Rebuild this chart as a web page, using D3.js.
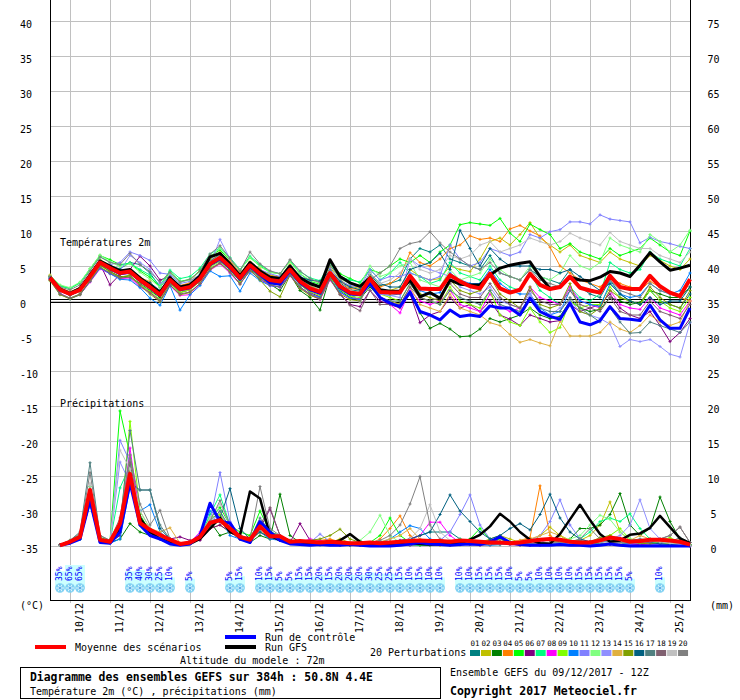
<!DOCTYPE html>
<html><head><meta charset="utf-8">
<script src="https://cdn.jsdelivr.net/npm/d3@7"></script>
<style>
body{margin:0;background:#fff}
svg{display:block}
text{font-family:"DejaVu Sans Mono",monospace;fill:#000}
</style>
</head><body>
<svg id="c" width="740" height="700"></svg>
<script>
// ---------------- DATA ----------------
// forecast hours (6-hourly, run 09/12/2017 12Z)
const hours = d3.range(0, 385, 6);
const dayLabels = ["10/12","11/12","12/12","13/12","14/12","15/12","16/12","17/12","18/12","19/12","20/12","21/12","22/12","23/12","24/12","25/12"];
const dayHours = [12,36,60,84,108,132,156,180,204,228,252,276,300,324,348,372];
const tempTicks = [40,35,30,25,20,15,10,5,0,-5,-10,-15,-20,-25,-30,-35];
const rightTicks = [75,70,65,60,55,50,45,40,35,30,25,20,15,10,5,0];

const pertColors = ["#008080","#c0c000","#008000","#ff8000","#00ff00","#800080","#00ff80","#ff00ff","#80ff00","#0080ff",
                    "#8080ff","#80ff80","#9090ff","#e0b040","#80a000","#006080","#508080","#806070","#c0c0c0","#808080"];
const pertNames = ["01","02","03","04","05","06","07","08","09","10","11","12","13","14","15","16","17","18","19","20"];

// Temperature 2m (°C), 65 steps
const tempMean = [3.3,1.6,1.0,1.6,3.5,5.5,4.7,4.0,4.2,3.0,2.0,0.9,3.0,1.7,2.0,3.2,5.3,6.2,4.9,3.3,5.1,3.9,3.0,2.8,4.5,2.8,1.8,1.3,4.0,2.1,1.2,1.0,
  3.2,1.3,1.2,1.2,3.6,1.8,1.7,1.7,3.7,2.8,2.1,1.8,3.9,1.8,1.2,1.6,3.9,2.3,1.7,2.0,3.5,1.9,1.5,1.2,3.6,2.0,1.7,1.7,3.6,2.1,1.2,0.7,3.1];
const tempGFS = [3.4,1.7,1.1,1.8,3.7,5.7,5.0,4.3,4.5,3.3,2.3,1.2,3.3,2.0,2.3,3.6,6.3,6.8,5.3,3.6,5.5,4.3,3.4,3.2,5.0,3.3,2.5,2.0,5.9,3.5,2.6,2.1,
  3.3,1.6,1.4,1.4,3.0,0.6,1.2,0.4,3.0,2.4,2.3,2.3,3.7,4.7,5.1,5.4,5.6,3.5,1.8,2.0,3.4,3.0,2.9,3.4,4.2,4.0,3.5,5.1,6.9,5.6,4.4,4.7,5.1];
const tempCtrl = [3.3,1.6,1.0,1.6,3.5,5.5,4.6,3.9,4.1,2.9,1.9,0.8,2.9,1.6,1.9,3.1,5.2,6.0,4.7,3.1,4.9,3.7,2.6,2.4,4.3,2.6,1.6,1.1,3.9,1.9,1.0,0.9,
  2.5,0.5,-0.3,-0.8,1.3,-1.5,-2.0,-2.7,-1.3,-2.2,-2.0,-2.2,-0.7,-1.0,-1.0,-2.0,0.4,-1.5,-2.2,-2.6,-0.3,-3.0,-3.4,-2.8,-0.8,-2.5,-2.6,-2.8,-0.6,-2.7,-3.9,-3.9,-1.0];
const tempPert = [
 [3.5,1.8,1.2,1.5,3.8,5.8,5.0,4.6,5.5,5.2,4.0,2.0,3.6,2.2,2.4,3.6,5.8,6.5,5.5,4.0,5.0,4.4,3.4,3.0,4.8,3.0,2.2,1.5,4.2,2.6,1.6,1.4,
  3.8,2.2,2.5,3.0,6.0,7.5,7.0,8.0,6.0,5.5,5.0,4.5,6.5,4.0,3.5,3.0,4.5,3.5,3.0,2.5,4.5,2.0,1.0,0.5,3.0,1.0,0.0,-0.5,1.5,0.0,-0.5,-1.0,1.0],
 [3.5,1.8,1.3,1.9,3.9,5.9,5.1,4.3,4.4,3.4,2.5,1.4,3.3,2.1,2.5,3.7,5.9,7.0,5.6,3.9,5.6,4.5,3.7,3.4,5.2,3.4,2.4,2.0,4.8,3.0,2.1,1.8,
  2.5,1.0,1.5,2.0,4.5,3.5,3.0,3.2,5.0,4.5,4.2,6.0,8.5,9.0,8.0,9.5,11.2,9.0,8.0,7.0,8.0,6.5,6.0,5.5,7.0,6.0,5.5,5.0,6.5,5.8,5.0,4.5,6.0],
 [3.2,1.5,0.8,1.4,3.2,5.2,4.2,3.5,3.5,2.5,1.5,0.5,2.6,1.2,1.6,3.0,5.0,5.8,4.5,2.8,4.5,3.4,2.4,1.5,3.8,1.5,0.5,-1.3,3.5,1.5,0.5,0.3,
  2.0,0.5,0.0,-0.5,1.0,-1.7,-3.9,-3.2,-4.0,-5.1,-5.0,-4.0,-2.5,-3.0,-2.5,-2.0,-1.0,-2.0,-2.5,-2.2,0.0,-1.0,-1.5,-1.2,0.5,0.0,-0.5,-0.2,1.5,1.0,0.5,0.5,2.0],
 [3.6,1.9,1.3,1.9,3.7,5.4,4.8,3.9,4.0,3.2,2.4,1.4,3.2,2.2,2.6,4.5,5.6,6.8,5.6,3.9,4.8,4.2,3.6,3.4,4.8,3.3,2.5,1.9,4.4,2.8,1.8,1.6,
  3.5,2.0,2.5,3.5,6.9,5.5,5.0,6.0,7.5,8.0,9.3,8.8,9.0,8.5,10.3,10.8,10.0,9.3,7.7,5.0,4.0,3.0,2.5,2.0,3.5,2.5,2.0,1.5,2.8,2.0,1.2,0.5,0.0],
 [3.6,2.2,1.8,2.6,4.6,6.5,5.9,5.2,5.4,4.3,3.4,2.0,4.2,2.8,3.1,4.3,6.4,7.3,5.8,4.4,6.2,5.0,4.1,3.9,5.7,3.9,2.8,2.4,5.3,3.9,3.2,2.6,
  4.5,4.0,5.0,6.0,5.5,6.5,5.5,7.0,8.0,10.9,11.2,11.0,10.8,11.8,9.7,8.5,11.0,10.2,9.5,7.5,8.2,7.0,6.5,6.0,7.5,6.5,7.0,7.5,9.0,8.0,7.0,6.5,10.0],
 [3.3,1.5,1.0,1.7,3.6,5.3,2.3,3.8,4.5,6.4,5.0,3.0,3.5,2.0,2.2,3.3,5.5,6.0,4.6,3.0,4.8,3.6,2.8,2.4,4.0,2.4,1.2,0.6,3.2,1.0,-0.5,-0.8,
  1.5,0.0,-0.5,-1.0,1.0,-3.1,-2.0,-1.5,0.5,-1.0,-0.5,-1.5,0.0,-2.0,-2.6,-3.5,-2.0,-2.5,-3.0,-2.8,-0.5,-1.5,-1.0,-0.5,1.0,-1.0,-2.0,-2.5,-1.5,-3.5,-5.8,-4.5,-2.5],
 [3.5,2.1,1.8,2.6,4.4,6.3,5.6,5.1,5.4,4.5,3.7,2.2,4.4,3.2,3.5,4.7,6.7,7.6,6.2,4.5,6.4,5.2,4.2,3.9,5.7,4.2,3.3,2.9,5.3,3.5,3.0,2.7,
  4.5,3.0,4.0,5.5,4.0,3.5,2.5,3.0,5.5,4.0,3.5,3.0,5.0,3.0,2.0,1.5,4.0,1.5,0.5,-0.5,2.0,0.5,0.0,1.0,5.5,4.5,4.0,4.5,7.0,6.0,5.5,5.0,7.5],
 [3.1,1.1,0.4,0.9,2.7,4.6,3.9,3.2,3.3,2.0,1.2,0.0,2.2,0.8,0.9,2.4,4.4,5.3,4.0,2.4,4.4,3.1,2.2,2.0,3.6,1.9,0.9,0.2,3.0,1.2,0.4,0.3,
  2.5,0.5,-0.5,-1.7,1.5,0.0,-0.5,0.0,1.5,-0.5,-1.0,-1.5,1.0,-0.8,-1.5,-1.0,2.0,0.5,0.0,-0.5,2.0,0.0,-0.5,-1.0,1.5,-0.5,-1.0,-1.2,0.5,-1.0,-1.5,-2.0,0.0],
 [3.0,1.0,0.4,1.0,2.9,4.9,4.0,3.3,3.5,2.4,1.4,0.2,2.5,1.2,1.6,2.8,4.8,5.7,4.4,2.8,4.6,3.4,2.4,2.3,4.0,2.3,1.3,0.8,3.5,1.6,0.7,0.5,
  3.0,1.0,0.5,0.0,2.5,0.5,0.0,-0.5,2.0,0.0,-0.5,-1.0,1.5,-2.0,-3.0,-3.5,-1.0,-3.0,-4.5,-3.8,0.0,-1.0,-0.5,-0.5,2.0,0.5,0.0,-0.5,1.5,0.0,-1.0,-1.5,0.5],
 [3.2,1.0,0.3,0.9,2.8,4.7,3.9,3.1,3.0,1.9,0.4,-0.6,2.2,-1.3,0.9,2.2,4.3,3.5,3.6,1.4,4.0,2.9,2.2,2.0,3.8,2.0,1.0,0.5,3.2,1.3,0.4,0.2,
  3.0,1.0,0.8,1.0,3.5,1.5,1.0,1.2,4.0,3.0,2.5,2.5,4.5,2.5,1.5,1.0,1.0,-1.0,-2.0,-1.5,1.5,0.0,-0.5,-0.8,2.5,1.0,0.5,0.8,2.5,1.5,1.0,1.5,4.0],
 [3.3,1.7,1.2,1.8,3.8,5.6,5.2,5.5,7.0,6.5,5.8,4.0,3.8,2.5,2.8,3.8,5.6,6.4,5.2,4.0,5.4,4.5,3.9,3.5,5.0,3.6,2.7,2.1,4.6,2.9,2.2,2.0,
  4.5,3.0,3.5,3.5,4.0,3.5,3.0,3.5,8.0,6.0,5.0,5.5,7.5,7.0,6.5,7.0,9.5,9.0,9.9,10.2,11.3,11.3,11.0,12.3,11.7,11.5,11.3,8.3,9.1,8.5,8.2,7.8,7.5],
 [3.7,2.3,1.9,2.7,4.6,6.6,5.6,4.9,5.3,4.1,3.1,2.0,4.0,2.7,3.0,4.2,6.4,7.5,6.0,4.4,6.2,4.9,4.1,3.9,5.6,3.9,3.0,2.5,5.1,3.2,2.5,2.3,
  5.0,3.5,4.0,5.0,5.5,3.0,2.5,2.0,4.5,3.0,3.5,4.0,6.0,4.5,3.5,3.0,5.0,3.5,3.0,4.0,6.5,5.0,4.5,5.5,9.0,8.0,7.5,7.0,9.5,8.5,7.0,8.0,10.1],
 [3.2,1.5,1.0,1.6,3.5,5.6,4.9,4.3,6.5,5.5,4.5,2.5,3.1,1.6,1.9,3.1,5.2,8.8,6.0,3.5,5.2,4.0,3.1,2.7,4.5,2.7,1.7,1.2,4.0,2.0,1.0,0.9,
  3.0,1.0,0.8,0.5,6.0,5.0,4.5,4.0,3.5,2.0,1.5,1.0,2.0,0.0,-0.5,-1.0,1.0,-1.5,-2.0,-1.0,0.0,-1.5,-2.0,-2.5,-3.3,-6.5,-5.5,-5.8,-5.5,-6.5,-7.6,-8.0,-3.1],
 [3.7,1.9,1.3,1.9,3.6,5.3,4.5,4.2,3.8,3.3,2.8,1.0,3.0,1.5,1.6,3.0,5.3,5.8,5.8,4.0,5.5,4.6,3.2,3.0,4.5,2.8,2.2,1.6,4.2,2.3,1.4,1.2,
  2.5,0.5,0.0,-0.5,2.0,-0.5,-1.0,-1.5,1.0,-1.0,-1.5,-2.0,-3.1,-3.5,-4.8,-5.9,-5.5,-6.0,-6.4,-2.9,-5.0,-5.0,-5.0,-4.5,-3.0,-4.0,-4.5,-3.5,-2.0,-3.0,-3.5,-3.0,0.0],
 [2.9,0.9,0.3,0.9,2.9,5.1,4.2,3.4,3.7,2.2,1.0,-0.1,2.3,0.9,1.2,2.5,4.5,5.4,4.2,2.4,4.4,3.0,1.4,0.6,3.7,1.8,0.8,0.3,3.2,1.0,0.2,0.0,
  3.5,1.5,1.0,1.5,3.5,1.0,0.5,0.0,3.0,1.5,1.0,1.5,3.5,1.0,0.0,-1.0,2.0,-0.5,-1.0,-0.5,2.5,-1.5,-2.0,-1.0,1.5,0.5,0.0,-0.5,2.0,0.5,-0.5,-1.0,1.5],
 [3.4,1.7,1.1,1.7,3.6,5.5,4.8,4.4,4.4,3.2,2.6,1.5,3.3,1.9,2.1,3.3,5.4,6.3,5.0,3.5,5.2,4.0,3.1,2.9,4.6,3.4,3.0,2.8,4.3,2.8,2.0,1.6,
  4.0,2.5,2.0,2.0,4.5,5.0,5.5,6.8,4.5,10.1,7.5,5.0,7.5,6.0,5.0,5.0,5.0,4.5,4.5,4.0,4.5,3.5,2.5,1.5,2.5,1.0,0.0,-0.5,0.5,-0.5,0.0,0.0,2.0],
 [3.3,1.6,1.0,1.7,3.7,5.8,5.0,4.1,4.4,3.1,2.1,1.0,3.0,1.8,2.0,3.4,5.6,6.8,5.2,3.4,5.2,4.0,3.0,2.8,4.7,3.0,2.0,1.5,4.1,2.2,1.3,1.1,
  2.5,0.5,0.0,0.0,2.5,0.5,0.0,-0.5,1.5,0.5,0.0,-0.5,1.5,-0.5,-1.0,-1.5,0.5,-1.0,-1.5,-1.5,0.5,-1.0,-2.0,-3.0,-1.0,-3.0,-4.6,-4.5,-3.0,-3.5,-4.0,-4.5,-3.0],
 [3.0,1.0,0.4,1.0,2.8,4.8,4.0,3.3,3.4,2.3,1.2,0.1,2.3,1.0,1.3,2.5,4.6,5.5,4.1,2.5,4.3,3.2,2.3,2.0,3.7,2.0,1.0,0.3,3.1,0.9,-0.6,-1.4,
  1.5,-0.5,-0.5,-0.5,2.0,0.5,0.0,0.5,2.5,1.0,0.5,0.5,2.5,0.5,-0.5,-1.0,1.5,0.0,-0.5,-0.5,1.5,-0.5,-1.0,-1.5,0.5,-1.5,-2.0,-2.0,0.0,-1.5,-2.0,-2.5,-0.5],
 [3.4,1.7,1.2,1.8,3.7,5.7,5.0,4.2,4.5,3.3,2.3,1.1,3.2,1.9,2.2,3.5,5.5,6.5,5.1,3.5,5.3,4.1,3.2,3.0,4.8,3.0,2.0,1.5,4.2,2.4,1.5,1.2,
  4.0,2.5,3.0,4.0,6.0,4.5,4.0,4.5,6.5,6.0,6.5,8.0,8.5,7.0,7.5,8.0,9.0,8.5,8.0,8.5,9.7,9.0,8.5,8.0,9.8,8.5,8.0,7.5,7.5,6.5,6.0,5.5,7.0],
 [3.5,2.0,1.6,2.3,4.3,6.3,5.5,5.2,6.8,5.2,4.2,2.7,4.1,2.7,3.1,4.3,6.7,7.9,6.1,4.3,7.0,5.3,4.3,3.9,5.9,4.3,3.2,2.6,5.1,3.3,1.2,-0.2,
  3.0,4.0,5.0,7.5,8.2,8.5,9.9,8.3,7.0,6.0,5.0,4.5,5.5,4.0,3.5,3.0,4.5,3.0,2.5,2.0,3.5,2.0,1.5,1.0,3.0,1.5,1.0,0.5,2.5,1.5,1.0,0.5,3.0]
];

// Precipitation (mm / 6h), steps 1..64
const precMean = [0.1,0.6,1.3,8.0,0.9,0.6,3.2,10.3, 3.3,2.3,1.6,0.9,0.3,0.5,1.3,3.3, 3.7,2.5,1.3,0.9,2.8,1.4,1.4,0.6,
  0.7,0.6,0.5,0.6,0.5,0.4,0.4,0.5, 0.4,0.5,0.6,0.7,0.8,0.7,0.7,0.6, 0.8,0.7,0.6,0.5,0.5,0.4,0.5,0.7, 0.9,1.0,0.9,0.6,0.5,0.5,0.8,1.2, 1.0,0.6,0.7,0.9,0.9,0.8,0.6,0.2];
const precGFS = [0.1,0.5,1.2,7.5,0.8,0.5,2.5,9.5, 4.0,2.0,1.0,0.5,0.2,0.3,1.0,2.5, 4.0,2.0,1.5,7.8,6.8,1.5,0.8,0.5,
  0.3,0.5,0.3,0.4,0.8,1.7,0.6,0.3, 0.2,0.3,0.2,0.4,0.3,0.2,0.3,0.2, 0.4,0.9,1.6,2.8,4.6,3.5,2.0,0.9, 0.4,0.3,1.7,3.8,5.9,3.7,1.7,0.6, 0.8,1.6,1.8,2.6,4.3,2.7,1.1,0.4];
const precCtrl = [0.1,0.4,1.0,6.5,0.5,0.4,2.0,9.0, 3.0,1.5,1.0,0.3,0.1,0.3,1.5,6.1, 3.5,3.3,1.0,0.5,3.5,2.0,0.8,0.3,
  0.2,0.1,0.2,0.1,0.1,0.2,0.1,0, 0,0,0.1,0.3,0.5,0.3,0.2,0.1, 0.2,0.3,0.2,0.6,1.3,0.5,0.2,0.1, 0.1,0.1,0.2,0.1,0.1,0,0.1,0.3, 0.1,0,0,0,0,0,0,0];
const precPert = [
 [0.1,0.5,1.0,7.0,0.8,0.5,2.0,9.5, 3.5,2.5,1.5,0.8,0.2,0.5,1.0,3.0, 3.5,2.5,1.0,1.0,2.5,1.5,1.0,0.5, 0.3,0.2,0.2,0.3,0.2,0.1,0.1,0.2, 0.3,0.2,0.5,1.0,1.5,2.0,2.0,2.0, 1.0,0.5,0.3,0.2,0.2,0.3,0.2,0.1, 0.1,0.2,0.3,0.5,0.3,0.2,0.3,0.5, 0.3,0.2,0.2,0.3,0.2,0.1,0.1,0.0],
 [0.1,0.6,1.5,6.5,1.0,0.6,3.0,12.5, 3.0,2.0,1.2,0.6,0.2,0.4,1.0,2.5, 3.0,2.0,1.5,0.8,2.0,1.0,1.5,0.5, 0.5,0.3,0.4,0.5,1.0,0.5,0.3,0.2, 0.2,0.3,0.5,0.6,0.5,0.3,0.2,0.2, 0.3,0.2,0.5,1.0,1.5,1.0,0.5,0.3, 1.5,2.7,1.5,0.5,0.8,1.5,3.0,6.3, 2.0,0.8,0.5,0.3,0.8,0.5,0.3,0.1],
 [0.1,0.5,1.0,6.0,0.8,0.5,1.0,3.2, 2.0,1.5,1.0,0.5,0.2,0.5,1.5,3.5, 1.5,2.0,1.5,0.5,1.5,1.0,7.4,1.5, 0.5,0.3,0.2,0.2,0.1,0.1,0.2,0.2, 0.1,0.2,0.3,0.2,0.1,0.1,0.2,0.1, 0.2,0.3,0.2,0.5,1.0,0.5,0.3,0.2, 0.2,0.3,0.5,1.0,2.5,2.5,3.0,4.5, 7.5,3.0,1.5,2.5,7.0,3.5,1.0,0.2],
 [0.1,0.7,1.5,7.5,1.0,0.7,2.5,10.5, 4.0,2.5,1.5,1.0,0.3,0.4,1.0,2.5, 4.5,2.0,1.0,1.5,3.0,1.5,1.0,0.8, 0.5,0.3,0.8,1.0,0.6,0.3,0.2,0.3, 1.0,2.5,4.3,1.5,0.5,0.2,0.1,0.1, 0.2,0.3,0.5,0.4,0.3,0.5,0.8,1.2, 8.6,1.5,0.5,0.3,0.2,0.3,0.5,0.8, 0.5,0.3,0.2,0.4,0.5,0.3,0.2,0.1],
 [0.2,0.8,1.6,8.5,1.2,0.8,19.3,13.0, 4.5,2.0,1.5,0.5,0.2,0.5,1.6,4.0, 5.5,3.0,2.0,1.5,5.0,2.0,1.5,0.8, 0.4,0.3,0.3,0.2,0.3,0.2,0.2,0.5, 1.5,4.0,1.5,0.5,0.3,0.2,0.2,0.3, 0.5,1.0,2.5,1.0,0.6,0.4,0.3,0.2, 0.3,0.5,0.8,0.5,0.3,0.2,0.5,1.0, 0.8,0.5,0.4,0.3,0.6,0.8,0.5,0.2],
 [0.1,0.5,1.2,7.0,0.8,0.5,1.5,11.0, 3.0,2.5,1.2,1.0,1.3,0.8,0.8,2.5, 3.0,2.0,1.0,0.6,2.5,5.3,1.5,0.5, 3.2,0.8,0.5,0.3,0.2,0.2,0.1,0.1, 0.2,0.3,0.2,0.1,0.2,0.5,0.8,0.5, 0.3,0.2,0.1,0.2,0.3,0.2,0.1,0.1, 0.2,0.3,0.5,0.3,0.2,0.1,0.2,0.3, 0.5,0.3,0.2,0.1,0.3,0.5,0.3,0.1],
 [0.1,0.6,1.4,8.0,1.0,0.6,8.3,11.5, 3.5,2.0,1.5,1.0,0.3,0.5,1.2,4.5, 7.3,3.0,1.5,1.0,3.0,1.5,1.0,0.5, 0.3,0.2,0.2,0.3,0.2,0.3,0.2,0.2, 0.4,0.5,0.3,0.2,0.1,0.2,0.3,0.5, 1.0,0.6,0.3,0.2,0.2,0.3,0.5,0.8, 0.5,0.3,0.4,0.5,1.0,2.0,3.5,4.0, 3.5,4.6,2.5,1.0,0.5,0.3,0.2,0.1],
 [0.1,0.6,1.3,7.5,0.9,0.6,2.0,14.0, 4.0,2.2,1.3,0.7,0.2,0.5,2.0,3.5, 4.0,2.5,1.2,0.8,2.5,1.5,1.0,0.6, 0.5,1.0,0.8,0.4,0.3,0.2,0.2,0.2, 0.3,0.5,0.8,1.0,1.5,3.4,3.4,1.5, 0.5,0.3,0.2,0.2,0.3,0.2,0.2,0.1, 0.1,0.2,0.3,0.2,0.2,0.3,0.2,0.3, 0.2,0.2,0.1,0.2,0.3,0.2,0.1,0.0],
 [0.1,0.7,1.5,8.0,1.0,0.7,2.0,17.8, 5.0,2.5,1.5,0.8,0.3,0.6,1.5,4.0, 4.5,2.5,1.2,0.8,2.0,1.2,1.2,0.6, 0.4,0.3,0.3,0.4,0.3,0.2,0.3,0.4, 0.5,0.6,0.5,0.5,0.3,0.2,0.3,0.2, 0.3,0.4,0.6,0.8,1.0,0.6,0.4,0.2, 0.2,0.5,1.5,0.8,0.4,0.3,1.0,1.5, 2.5,1.0,0.6,0.5,0.8,1.2,0.5,0.2],
 [0.1,0.4,1.0,6.0,0.6,0.4,1.0,8.5, 5.0,5.9,2.0,0.8,0.2,0.5,1.5,5.0, 4.0,1.5,1.0,0.8,2.0,1.0,0.8,0.4, 0.3,0.2,0.2,0.2,0.3,0.2,0.2,0.3, 0.5,1.0,2.0,2.9,2.5,1.0,0.5,0.3, 0.2,0.3,0.2,0.1,0.2,0.3,0.2,0.2, 0.3,0.5,0.4,0.3,0.2,0.3,0.5,0.8, 0.5,0.3,0.5,0.8,0.5,0.3,0.2,0.1],
 [0.1,0.6,1.4,7.5,1.0,0.6,15.1,12.0, 4.0,2.0,1.5,0.7,0.2,0.5,1.5,3.5, 10.5,3.5,1.5,1.0,2.0,1.2,1.0,0.5, 0.4,0.5,1.7,0.6,0.3,0.2,0.3,0.3, 0.3,0.2,0.3,0.4,0.5,0.5,0.8,2.0, 4.5,7.3,3.0,1.0,0.6,0.4,0.5,0.8, 1.5,3.5,6.6,3.0,1.0,0.6,0.4,0.3, 0.2,0.3,0.4,0.3,0.2,0.2,0.1,0.0],
 [0.1,0.5,1.2,7.0,0.8,0.5,2.0,10.0, 3.0,2.0,1.2,0.6,0.2,0.5,1.2,3.5, 4.0,2.5,1.0,0.8,2.5,1.5,1.2,0.6, 0.4,0.3,0.4,0.6,0.5,0.4,0.8,2.0, 4.4,1.5,0.5,0.3,0.2,0.3,0.2,0.2, 0.3,0.2,0.3,0.5,0.6,0.4,0.3,0.3, 0.4,0.5,0.8,1.0,1.5,3.0,4.4,3.8, 2.0,1.0,0.8,0.5,0.5,0.3,0.2,0.1],
 [0.1,0.5,1.1,6.5,0.7,0.5,12.0,9.0, 3.5,1.8,1.2,0.6,0.2,0.4,1.2,3.0, 5.0,2.0,1.2,0.8,2.0,1.2,0.8,0.4, 0.3,0.2,0.2,0.3,0.2,0.2,0.2,0.3, 0.2,0.3,0.2,0.3,0.4,0.3,0.3,0.2, 0.2,0.3,0.2,0.3,0.3,0.2,0.3,0.4, 0.5,1.0,0.6,0.4,0.3,0.5,0.8,1.0, 1.5,3.0,6.6,2.5,1.0,0.5,0.3,0.1],
 [0.1,0.6,1.3,7.0,0.9,0.6,2.5,11.0, 3.0,2.5,2.0,2.6,0.4,0.5,1.2,3.0, 3.5,2.0,1.0,0.8,2.0,1.5,1.2,0.6, 0.4,0.3,0.4,0.5,0.4,0.3,0.3,0.4, 0.6,1.0,1.5,2.5,1.0,0.5,0.3,0.2, 0.3,0.5,0.5,0.4,0.3,0.5,0.8,1.0, 1.5,2.0,1.5,0.8,0.5,0.6,1.0,0.8, 0.5,0.8,1.5,1.0,0.6,0.4,0.2,0.1],
 [0.1,0.6,1.2,7.5,0.9,0.5,2.0,10.5, 3.5,2.0,1.3,0.8,0.2,0.5,1.5,3.2, 3.8,2.5,1.5,1.0,2.5,1.5,1.2,0.5, 0.6,0.8,1.0,1.5,2.4,1.0,0.5,0.3, 0.3,0.5,0.4,0.3,0.2,0.3,0.4,0.3, 0.2,0.3,0.5,0.8,0.5,0.3,0.3,0.2, 0.3,0.5,0.6,0.5,0.4,0.6,1.2,1.5, 1.0,0.6,0.4,0.3,0.5,0.4,0.2,0.1],
 [0.1,0.5,1.2,7.0,0.8,0.5,2.0,9.0, 8.0,8.0,2.5,1.0,0.3,0.5,1.5,3.0, 4.0,8.2,2.5,1.0,2.0,1.2,0.8,0.5, 0.3,0.3,0.2,0.3,0.4,0.3,0.3,0.5, 0.6,0.5,0.8,1.0,1.5,2.0,4.5,7.3, 5.0,3.5,2.0,1.0,1.5,2.5,3.2,2.3, 4.5,7.4,4.0,2.0,1.0,0.6,0.4,0.3, 0.3,0.5,0.8,0.5,0.3,0.2,0.2,0.1],
 [0.2,0.8,2.0,11.9,1.5,0.8,3.0,16.5, 8.0,8.0,3.0,1.0,0.3,0.6,1.5,3.5, 5.0,2.5,1.5,1.0,4.0,2.0,1.5,0.8, 0.5,0.3,0.3,0.4,0.3,0.2,0.3,0.4, 0.3,0.2,0.3,0.4,0.3,0.2,0.2,0.3, 0.4,0.3,0.2,0.3,0.4,0.3,0.2,0.2, 0.3,0.4,0.5,0.6,0.8,0.5,0.4,0.3, 0.5,0.8,1.0,0.8,0.5,0.6,1.2,0.5],
 [0.1,0.6,1.3,8.0,1.0,0.6,2.0,12.0, 4.0,2.0,1.2,0.6,0.2,0.4,1.2,3.5, 4.0,2.0,1.0,0.8,3.0,5.5,1.5,0.5, 0.4,0.3,0.2,0.3,0.2,0.2,0.2,0.3, 0.3,0.2,0.3,0.5,0.6,0.4,0.3,0.2, 0.3,0.4,0.3,0.2,0.3,0.4,0.3,0.3, 0.4,0.5,0.6,0.5,0.4,0.5,0.6,0.8, 1.0,0.8,0.6,0.5,1.0,1.5,2.7,0.5],
 [0.1,0.7,1.5,9.0,1.0,0.6,13.7,11.0, 5.0,2.5,1.5,0.8,0.2,0.5,1.5,4.0, 6.0,3.0,1.5,1.0,3.0,1.5,1.2,0.6, 0.4,0.3,0.3,0.4,0.3,0.3,0.3,0.4, 0.5,0.4,0.6,1.0,2.5,5.9,2.0,0.8, 0.4,0.3,0.3,0.4,0.5,0.4,0.3,0.2, 0.3,0.4,0.5,0.4,0.3,0.4,0.6,0.5, 0.4,0.5,0.6,0.8,0.6,0.4,0.2,0.1],
 [0.2,0.8,1.8,10.5,1.5,0.8,4.0,13.0, 6.0,3.0,5.1,1.0,0.3,0.6,1.5,3.5, 6.5,3.0,1.5,1.0,8.5,2.5,1.5,0.8, 0.5,0.4,0.3,0.5,0.4,0.3,0.3,0.5, 0.8,1.5,3.0,6.0,9.9,3.0,1.0,0.5, 0.4,0.3,0.4,0.5,0.6,0.4,0.3,0.3, 0.3,0.4,0.5,0.6,1.0,2.5,1.0,0.6, 0.5,0.6,0.8,1.0,1.0,1.5,2.7,0.5]
];

// Snow probability (%) at given forecast hours
const snowHours = [6,12,18,48,54,60,66,72,84,108,114,
  126,132,138,144,150,156,162,168,174,180,186,192,198,204,210,216,222,228,234,
  246,252,258,264,270,276,282,288,294,300,306,312,318,324,330,336,342,348,366];
const snowPct = [35,65,65,35,40,30,25,10,5,5,15,
  10,15,5,5,15,15,20,15,20,20,20,30,25,25,15,10,15,10,10,
  10,10,15,15,15,10,5,5,10,10,10,10,15,15,15,15,15,5,10];

// ---------------- DRAW ----------------
const svg = d3.select("#c");
const x = d3.scaleLinear().domain([0, 384]).range([50, 690]);
const yT = d3.scaleLinear().domain([-35, 40]).range([546, 21]);
const yP = d3.scaleLinear().domain([0, 20]).range([546, 406]);
const FONT = '"DejaVu Sans Mono", monospace';

// grid
const grid = svg.append("g");
grid.selectAll("line.h").data(tempTicks).join("line").attr("class","h")
  .attr("x1", 50).attr("x2", 690).attr("y1", d => Math.round(yT(d)) + 0.5).attr("y2", d => Math.round(yT(d)) + 0.5)
  .attr("stroke", "#c0c0c0").attr("stroke-width", 1);
grid.selectAll("line.v").data(dayHours).join("line").attr("class","v")
  .attr("x1", d => x(d) + 0.5).attr("x2", d => x(d) + 0.5).attr("y1", 0).attr("y2", 603)
  .attr("stroke", "#c0c0c0").attr("stroke-width", 1);

// zero line (double)
[-1.5, 1.5].forEach(o => {
  svg.append("line").attr("x1", 50).attr("x2", 690)
    .attr("y1", yT(0) + o).attr("y2", yT(0) + o).attr("stroke", "#000").attr("stroke-width", 1);
});

// axes frame
svg.append("line").attr("x1", 50.5).attr("x2", 50.5).attr("y1", 0).attr("y2", 601).attr("stroke", "#000");
svg.append("line").attr("x1", 690.5).attr("x2", 690.5).attr("y1", 0).attr("y2", 601).attr("stroke", "#000");
svg.append("line").attr("x1", 50).attr("x2", 691).attr("y1", 600.5).attr("y2", 600.5).attr("stroke", "#000");

// tick labels
svg.selectAll("text.lt").data(tempTicks).join("text").attr("class","lt")
  .attr("x", 20).attr("y", d => yT(d) + 6.5).attr("font-size", 10).attr("font-family", FONT).text(d => d);
svg.selectAll("text.rt").data(rightTicks).join("text").attr("class","rt")
  .attr("x", 713.5).attr("y", (d, i) => yT(tempTicks[i]) + 6.5).attr("text-anchor", "middle")
  .attr("font-size", 10).attr("font-family", FONT).text(d => d);

svg.append("text").attr("x", 60).attr("y", 246).attr("font-size", 10).attr("font-family", FONT).text("Températures 2m");
svg.append("text").attr("x", 60).attr("y", 407).attr("font-size", 10).attr("font-family", FONT).text("Précipitations");

// date labels
svg.selectAll("text.day").data(dayLabels).join("text").attr("class","day")
  .attr("transform", (d, i) => `translate(${x(dayHours[i]) + 12.5},603) rotate(-90)`)
  .attr("text-anchor", "end").attr("font-size", 10).attr("font-family", FONT).text(d => d);

svg.append("text").attr("x", 20).attr("y", 609).attr("font-size", 10).attr("font-family", FONT).text("(°C)");
svg.append("text").attr("x", 710).attr("y", 609).attr("font-size", 10).attr("font-family", FONT).text("(mm)");

// snow probabilities
const snowG = svg.append("g");
snowG.selectAll("rect").data(snowHours).join("rect")
  .attr("x", d => x(d) - 5).attr("width", 10)
  .attr("y", (d, i) => 583 - Math.min(18, 3 + snowPct[i] * 0.25))
  .attr("height", (d, i) => Math.min(18, 3 + snowPct[i] * 0.25) + 6)
  .attr("fill", "#ccffff");
const flake = snowG.selectAll("g.fl").data(snowHours).join("g").attr("class","fl")
  .attr("transform", d => `translate(${x(d)},588)`);
flake.append("circle").attr("r", 4.8).attr("fill", "#7fd0f2");
flake.append("path").attr("d", "M-4,0H4M-2,-3.4L2,3.4M-2,3.4L2,-3.4").attr("stroke", "#e8f8ff").attr("stroke-width", 0.9);
flake.append("circle").attr("r", 1).attr("fill", "#3a8ee0");
snowG.selectAll("text").data(snowPct).join("text")
  .attr("transform", (d, i) => `translate(${x(snowHours[i]) + 1.8},581) rotate(-90)`)
  .attr("font-size", 8).attr("font-family", FONT).style("fill", "#0000ff").text(d => d + "%");

// series
const crossPath = (px, py) => `M${px - 1.5},${py}H${px + 1.5}M${px},${py - 1.5}V${py + 1.5}`;
const lineT = d3.line().x((d, i) => x(hours[i])).y(d => yT(d));
const lineP = d3.line().x((d, i) => x(hours[i + 1])).y(d => yP(d));

const series = svg.append("g").attr("fill", "none");
tempPert.forEach((s, j) => {
  series.append("path").attr("d", lineT(s)).attr("stroke", pertColors[j]).attr("stroke-width", 1);
  series.append("path").attr("d", s.map((v, i) => crossPath(x(hours[i]), yT(v))).join(""))
    .attr("stroke", pertColors[j]).attr("stroke-width", 1);
});
precPert.forEach((s, j) => {
  series.append("path").attr("d", lineP(s)).attr("stroke", pertColors[j]).attr("stroke-width", 1);
  series.append("path").attr("d", s.map((v, i) => crossPath(x(hours[i + 1]), yP(v))).join(""))
    .attr("stroke", pertColors[j]).attr("stroke-width", 1);
});
// GFS, control, mean
series.append("path").attr("d", lineT(tempGFS)).attr("stroke", "#000").attr("stroke-width", 3).attr("stroke-linejoin", "round");
series.append("path").attr("d", lineP(precGFS)).attr("stroke", "#000").attr("stroke-width", 2.5).attr("stroke-linejoin", "round");
series.append("path").attr("d", lineT(tempCtrl)).attr("stroke", "#0000ff").attr("stroke-width", 3).attr("stroke-linejoin", "round");
series.append("path").attr("d", lineP(precCtrl)).attr("stroke", "#0000ff").attr("stroke-width", 3).attr("stroke-linejoin", "round");
series.append("path").attr("d", lineT(tempMean)).attr("stroke", "#ff0000").attr("stroke-width", 4).attr("stroke-linejoin", "round");
series.append("path").attr("d", lineP(precMean)).attr("stroke", "#ff0000").attr("stroke-width", 4).attr("stroke-linejoin", "round");

// legend
svg.append("rect").attr("x", 35).attr("y", 645).attr("width", 31).attr("height", 4).attr("fill", "#ff0000");
svg.append("text").attr("x", 75).attr("y", 651).attr("font-size", 10).attr("font-family", FONT).text("Moyenne des scénarios");
svg.append("rect").attr("x", 225).attr("y", 635).attr("width", 31).attr("height", 4).attr("fill", "#0000ff");
svg.append("text").attr("x", 265).attr("y", 641).attr("font-size", 10).attr("font-family", FONT).text("Run de contrôle");
svg.append("rect").attr("x", 225).attr("y", 645).attr("width", 31).attr("height", 4).attr("fill", "#000");
svg.append("text").attr("x", 265).attr("y", 651).attr("font-size", 10).attr("font-family", FONT).text("Run GFS");
svg.append("text").attr("x", 180).attr("y", 664).attr("font-size", 10).attr("font-family", FONT).text("Altitude du modele : 72m");
svg.append("text").attr("x", 370).attr("y", 656).attr("font-size", 10).attr("font-family", FONT).text("20 Perturbations");
const lg = svg.append("g");
lg.selectAll("rect").data(pertColors).join("rect")
  .attr("x", (d, i) => 470 + i * 10.95).attr("y", 650).attr("width", 10).attr("height", 6).attr("fill", d => d);
lg.selectAll("text").data(pertNames).join("text")
  .attr("x", (d, i) => 475 + i * 10.95).attr("y", 646).attr("text-anchor", "middle")
  .attr("font-size", 7.5).attr("font-family", FONT).text(d => d);

// title box
svg.append("rect").attr("x", 20.5).attr("y", 667.5).attr("width", 420).attr("height", 31)
  .attr("fill", "none").attr("stroke", "#000").attr("stroke-width", 1);
svg.append("text").attr("x", 30).attr("y", 681).attr("font-size", 11.4).attr("font-weight", "bold").attr("font-family", FONT)
  .text("Diagramme des ensembles GEFS sur 384h : 50.8N 4.4E");
svg.append("text").attr("x", 30).attr("y", 695).attr("font-size", 10).attr("font-family", FONT)
  .text("Température 2m (°C) , précipitations (mm)");
svg.append("text").attr("x", 450).attr("y", 676).attr("font-size", 10).attr("font-family", FONT)
  .text("Ensemble GEFS du 09/12/2017 - 12Z");
svg.append("text").attr("x", 450).attr("y", 695).attr("font-size", 11.5).attr("font-weight", "bold").attr("font-family", FONT)
  .text("Copyright 2017 Meteociel.fr");
</script>
</body></html>
